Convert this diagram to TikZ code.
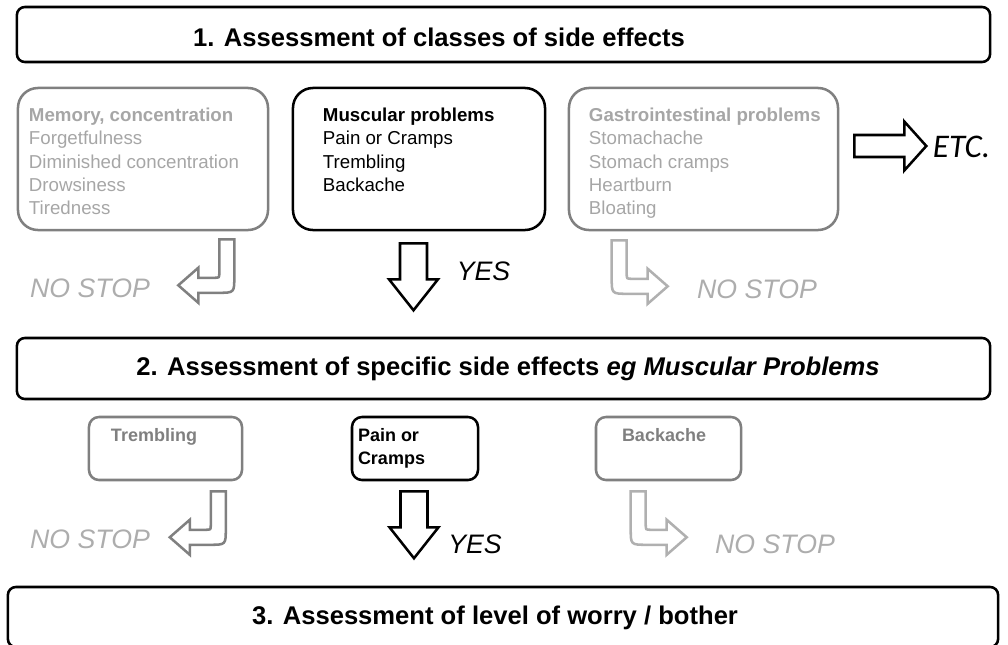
\documentclass[tikz,border=0pt]{standalone}
\usepackage{fontspec}
\setmainfont{Liberation Sans}
\newfontfamily\etcfont{Carlito}
\usetikzlibrary{positioning}

\definecolor{boxgray}{HTML}{808080}
\definecolor{itemgray}{HTML}{A6A6A6}
\definecolor{stopgray}{HTML}{ADADAD}
\definecolor{paleline}{HTML}{B0B0B0}

\tikzset{
    stagebox/.style={
        rectangle, rounded corners=0.2cm,
        draw=black, line width=1.8pt,
    },
    stagetext/.style={
        inner sep=0pt,
        font=\fontsize{18.2}{22}\selectfont\bfseries,
    },
    classbox/.style={
        rectangle, rounded corners=0.5cm,
        line width=1.8pt,
        minimum height=3.55cm,
    },
    effectbox/.style={
        rectangle, rounded corners=0.25cm,
        line width=1.8pt,
        minimum height=1.575cm,
    },
    classtext/.style={
        anchor=north west, inner sep=0pt, align=left,
        font=\fontsize{13.3}{16.6}\selectfont,
    },
    effecttext/.style={
        anchor=north west, inner sep=0pt, align=left,
        font=\fontsize{12.8}{16.4}\selectfont\bfseries,
    },
    answer/.style={
        inner sep=0pt,
        font=\fontsize{19}{22}\selectfont\itshape,
    },
    % hollow arrows, drawn in pixel units
    leftbend/.pic={
        \draw[pic actions] (-7.5,0) -- (7.5,0) -- (7.5,37.5)
            .. controls (7.5,53.5) .. (-8.5,53.5) -- (-28.5,53.5)
            -- (-28.5,63.5) -- (-48.5,46) -- (-28.5,28.5) -- (-28.5,38.5)
            -- (-12.5,38.5) .. controls (-7.5,38.5) .. (-7.5,33.5) -- cycle;
    },
    downblock/.pic={
        \draw[pic actions] (-13.5,0) -- (13.5,0) -- (13.5,36) -- (24.5,36)
            -- (0,67) -- (-24.5,36) -- (-13.5,36) -- cycle;
    },
    rightblock/.pic={
        \draw[pic actions] (0,-11) -- (50,-11) -- (50,-24.5) -- (72,0)
            -- (50,24.5) -- (50,11) -- (0,11) -- cycle;
    },
}

\begin{document}
\begin{tikzpicture}[x=0.025cm, y=-0.025cm]
    \useasboundingbox (0,0) rectangle (1008,645);
    \clip (0,0) rectangle (1008,645);

    % step 1
    \node (stage1) at (503.5,34.5) [
        stagebox,
        minimum width=24.325cm, minimum height=1.375cm,
    ] {};
    \node (stage1text) at (439,37) [stagetext] {1. Assessment of classes of side effects};

    \node (memory) at (143,159) [
        classbox, draw=boxgray, minimum width=6.25cm,
    ] {};
    \node (muscular) at (419,159) [
        classbox, draw=black, minimum width=6.3cm,
    ] {};
    \node (gastro) at (703.5,159) [
        classbox, draw=boxgray, minimum width=6.725cm,
    ] {};

    \node (memorytext) at ([shift={(12,21)}]memory.north west) [
        classtext, text=itemgray,
    ] {\textbf{Memory, concentration}\\Forgetfulness\\Diminished concentration\\Drowsiness\\Tiredness};
    \node (musculartext) at ([shift={(31,21)}]muscular.north west) [
        classtext, text=black,
    ] {\textbf{Muscular problems}\\Pain or Cramps\\Trembling\\Backache};
    \node (gastrotext) at ([shift={(21,21)}]gastro.north west) [
        classtext, text=itemgray,
    ] {\textbf{Gastrointestinal problems}\\Stomachache\\Stomach cramps\\Heartburn\\Bloating};

    \pic[draw=black, line width=1.8pt] at ([shift={(15,-13)}]gastro.east) {rightblock};
    \node (etc) at (961.5,147) [
        inner sep=0pt, font=\fontsize{23.5}{27}\selectfont\etcfont\itshape,
    ] {ETC.};

    \pic[draw=boxgray, line width=1.8pt] at ([shift={(-42.5,8)}]memory.south east) {leftbend};
    \node (nostop1) at (90,288) [answer, text=stopgray] {NO STOP};

    \pic[draw=black, line width=1.8pt] at ([shift={(-5.5,12)}]muscular.south) {downblock};
    \node (yes1) at (483.5,271) [answer, text=black] {YES};

    \pic[draw=paleline, line width=1.8pt, xscale=-1] at ([shift={(51.5,9)}]gastro.south west) {leftbend};
    \node (nostop2) at (757,289) [answer, text=stopgray] {NO STOP};

    % step 2
    \node (stage2) at (503.5,368.5) [
        stagebox,
        minimum width=24.325cm, minimum height=1.525cm,
    ] {};
    \node (stage2text) at (508,369) [stagetext] {2. Assessment of specific side effects \textit{eg Muscular Problems}};

    \node (trembling) at (165.5,448.5) [
        effectbox, draw=boxgray, minimum width=3.825cm,
    ] {};
    \node (pain) at (415,448.5) [
        effectbox, draw=black, minimum width=3.15cm,
    ] {};
    \node (backache) at (668.5,448.5) [
        effectbox, draw=boxgray, minimum width=3.625cm,
    ] {};

    \node (tremblingtext) at ([shift={(23,12)}]trembling.north west) [
        effecttext, text=boxgray,
    ] {Trembling};
    \node (paintext) at ([shift={(7,12)}]pain.north west) [
        effecttext, text=black,
    ] {Pain or\\Cramps};
    \node (backachetext) at ([shift={(27,12)}]backache.north west) [
        effecttext, text=boxgray,
    ] {Backache};

    \pic[draw=boxgray, line width=1.8pt] at ([shift={(-25,10)}]trembling.south east) {leftbend};
    \node (nostop3) at (90,539) [answer, text=stopgray] {NO STOP};

    \pic[draw=black, line width=1.8pt] at ([shift={(-1,10)}]pain.south) {downblock};
    \node (yes2) at (475,544) [answer, text=black] {YES};

    \pic[draw=paleline, line width=1.8pt, xscale=-1] at ([shift={(43.5,10)}]backache.south west) {leftbend};
    \node (nostop4) at (775,544) [answer, text=stopgray] {NO STOP};

    % step 3
    \node (stage3) at (503,617) [
        stagebox,
        minimum width=24.75cm, minimum height=1.5cm,
    ] {};
    \node (stage3text) at (495,618) [stagetext] {3. Assessment of level of worry / bother};
\end{tikzpicture}
\end{document}
